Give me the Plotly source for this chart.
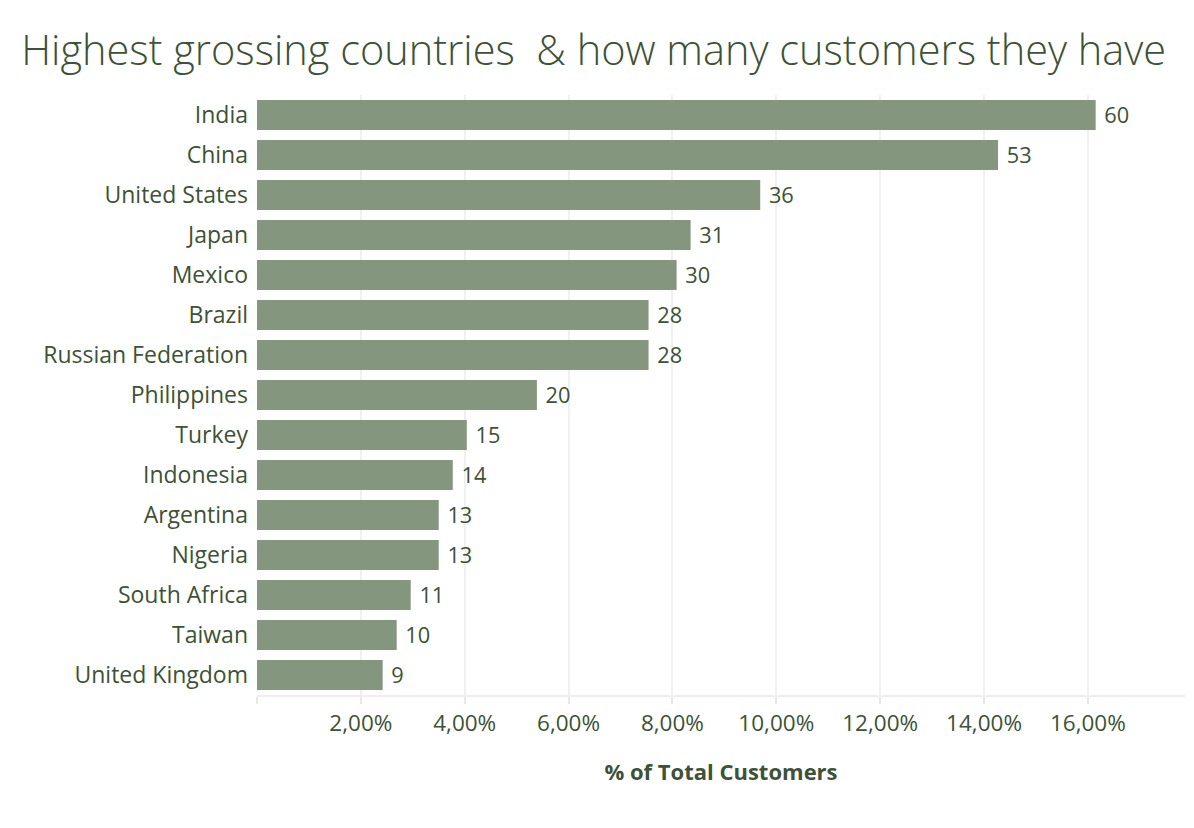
import plotly.graph_objects as go

countries = ["India", "China", "United States", "Japan", "Mexico", "Brazil",
             "Russian Federation", "Philippines", "Turkey", "Indonesia",
             "Argentina", "Nigeria", "South Africa", "Taiwan", "United Kingdom"]
customers = [60, 53, 36, 31, 30, 28, 28, 20, 15, 14, 13, 13, 11, 10, 9]
pct_of_total = [16.15, 14.27, 9.69, 8.35, 8.08, 7.54, 7.54, 5.39, 4.04, 3.77,
                3.50, 3.50, 2.96, 2.69, 2.42]
tick_vals = [0, 2, 4, 6, 8, 10, 12, 14, 16]
tick_text = ["", "2,00%", "4,00%", "6,00%", "8,00%", "10,00%", "12,00%", "14,00%", "16,00%"]

text_color = "#3d5236"
bar_color = "#84977e"
font_family = "Open Sans"

fig = go.Figure(go.Bar(
    x=pct_of_total,
    y=countries,
    orientation="h",
    marker=dict(color=bar_color, line=dict(width=0)),
    width=0.75,
    text=["\u00a0" + str(c) for c in customers],
    textposition="outside",
    textfont=dict(family=font_family, size=22.5, color=text_color),
    cliponaxis=False,
    hoverinfo="skip",
))

fig.update_layout(
    width=1194, height=828,
    margin=dict(l=249, r=17, t=87, b=141),
    paper_bgcolor="white", plot_bgcolor="white",
    showlegend=False,
    title=dict(text="Highest grossing countries  & how many customers they have",
               x=0.4905, xanchor="center", y=0.949, yanchor="middle",
               font=dict(family=font_family, size=41.5, color=text_color, weight=300)),
    font=dict(family=font_family, color=text_color),
)
fig.update_xaxes(
    range=[0, 17.87],
    tickvals=tick_vals, ticktext=tick_text,
    tickfont=dict(family=font_family, size=22.5, color=text_color),
    showgrid=True, gridcolor="#f0f0f0", gridwidth=1.5,
    zeroline=False,
    showline=True, linecolor="#eeeeee", linewidth=2,
    ticks="outside", ticklen=7, tickcolor="#e8e8e8", tickwidth=1.5,
    title=dict(text="<b>% of Total Customers</b>", standoff=28,
               font=dict(family=font_family, size=22, color=text_color)),
)
fig.update_yaxes(
    categoryorder="array", categoryarray=countries, autorange="reversed",
    tickfont=dict(family=font_family, size=23, color=text_color),
    showgrid=False, showline=False, ticks="", ticklabelstandoff=8,
)

fig.write_html("out.html")
